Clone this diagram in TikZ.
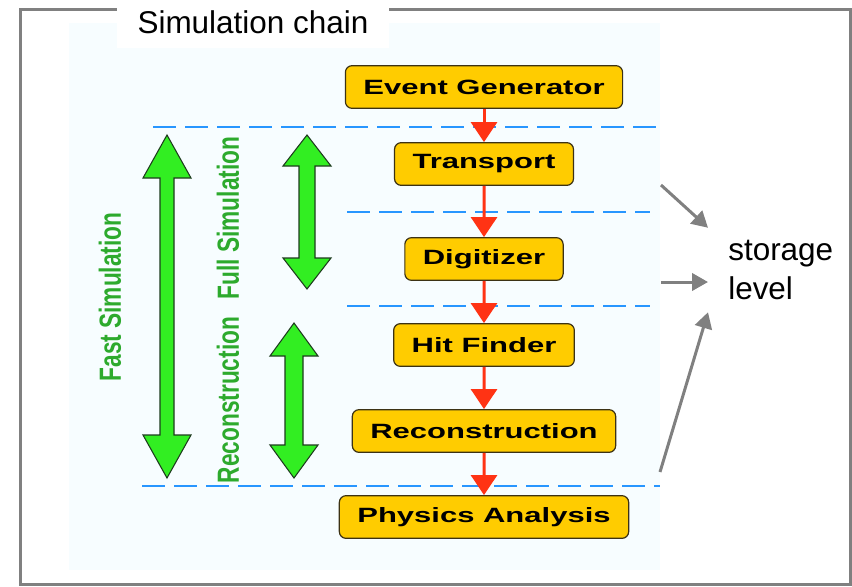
\documentclass[tikz,border=0pt]{standalone}
\usepackage{fontspec}
\setmainfont{Liberation Sans}
\usepackage{graphicx}
\usetikzlibrary{arrows.meta}

\definecolor{stageyellow}{RGB}{255,204,0}
\definecolor{stagerim}{RGB}{60,50,20}
\definecolor{chainred}{RGB}{255,51,20}
\definecolor{cutblue}{RGB}{40,150,255}
\definecolor{spangreen}{RGB}{50,238,34}
\definecolor{spanrim}{RGB}{30,60,30}
\definecolor{labgreen}{RGB}{45,170,45}
\definecolor{paleback}{RGB}{247,253,255}
\definecolor{framegray}{RGB}{128,128,128}

\begin{document}
\begin{tikzpicture}[x=0.75pt,y=-0.75pt,level distance=64.5pt]
  \tikzstyle{level 1}=[level distance=57.75pt]
  \tikzstyle{level 2}=[level distance=71.25pt]
  \tikzstyle{level 3}=[level distance=64.5pt]
  \tikzstyle{stage}=[rectangle, draw=stagerim, line width=0.9pt, fill=stageyellow,
    rounded corners=5pt, inner xsep=13.5pt, minimum height=32pt,
    font=\bfseries\fontsize{15.5}{15.5}\selectfont]
  \tikzstyle{edge from parent}=[draw=chainred, line width=2.25pt,
    -{Triangle[width=19.5pt,length=15pt]}]
  \tikzstyle{cut}=[draw=cutblue, line width=1.5pt, dash pattern=on 17pt off 7pt]
  \tikzstyle{span}=[draw=spanrim, line width=0.8pt, fill=spangreen]
  \tikzstyle{spanlabel}=[rotate=90, text=labgreen, inner sep=0pt,
    font=\bfseries\fontsize{17}{17}\selectfont]
  \tikzstyle{storearrow}=[draw=framegray, line width=2.25pt,
    -{Triangle[width=13pt,length=12pt]}]
  \useasboundingbox (0,0) rectangle (852,586);

  % frame and title
  \draw[framegray, line width=2.25pt] (20,9) rectangle (850,584);
  \fill[paleback] (69,23) rectangle (660,570);
  \node[fill=white, minimum width=204pt, minimum height=37.5pt,
    font=\fontsize{23.6}{23.6}\selectfont] (title) at (253,22.5) {Simulation chain};

  % level cuts
  \draw[cut] (153,127) -- (660,127);
  \draw[cut] (347,212) -- (650,212);
  \draw[cut] (347,306) -- (650,306);
  \draw[cut, line width=0.8pt] (142,486) -- (660,486);

  % the chain
  \node[stage] (evgen) at (484,87) {\scalebox{1.5}[1]{Event Generator}}
  child {node[stage] (transport) {\scalebox{1.5}[1]{Transport}}
    child {node[stage] (digitizer) {\scalebox{1.5}[1]{Digitizer}}
      child {node[stage] (hitfinder) {\scalebox{1.5}[1]{Hit Finder}}
        child {node[stage] (reco) {\scalebox{1.5}[1]{Reconstruction}}
          child {node[stage] (physics) {\scalebox{1.5}[1]{Physics Analysis}}}
        }
      }
    }
  };

  % green spans
  \foreach \x/\t/\b/\h/\s in {167/135/478/43/7, 307/135/289/31/8, 294/323/478/33/9}
    \draw[span] (\x,\t) -- (\x+24,\t+\h) -- (\x+\s,\t+\h) -- (\x+\s,\b-\h)
      -- (\x+24,\b-\h) -- (\x,\b) -- (\x-24,\b-\h) -- (\x-\s,\b-\h)
      -- (\x-\s,\t+\h) -- (\x-24,\t+\h) -- cycle;
  \node[spanlabel] (fastlab) at (110,297) {\scalebox{1}[1.35]{Fast Simulation}};
  \node[spanlabel] (fulllab) at (228,218) {\scalebox{1}[1.35]{Full Simulation}};
  \node[spanlabel] (recolab) at (228,400) {\scalebox{1}[1.35]{Reconstruction}};

  % storage level
  \node[anchor=west, align=left, inner xsep=15pt, inner ysep=0pt, minimum height=63pt,
    font=\fontsize{23.6}{29}\selectfont] (store) at (708,270) {storage\\level};
  \coordinate (fromtransport) at (661,185);
  \coordinate (fromdigi) at (661,282);
  \coordinate (fromreco) at (660,472);
  \draw[storearrow] (fromtransport) -- (store.north west);
  \draw[storearrow] (fromdigi) -- (fromdigi -| store.west);
  \draw[storearrow] (fromreco) -- (store.south west);
\end{tikzpicture}
\end{document}
